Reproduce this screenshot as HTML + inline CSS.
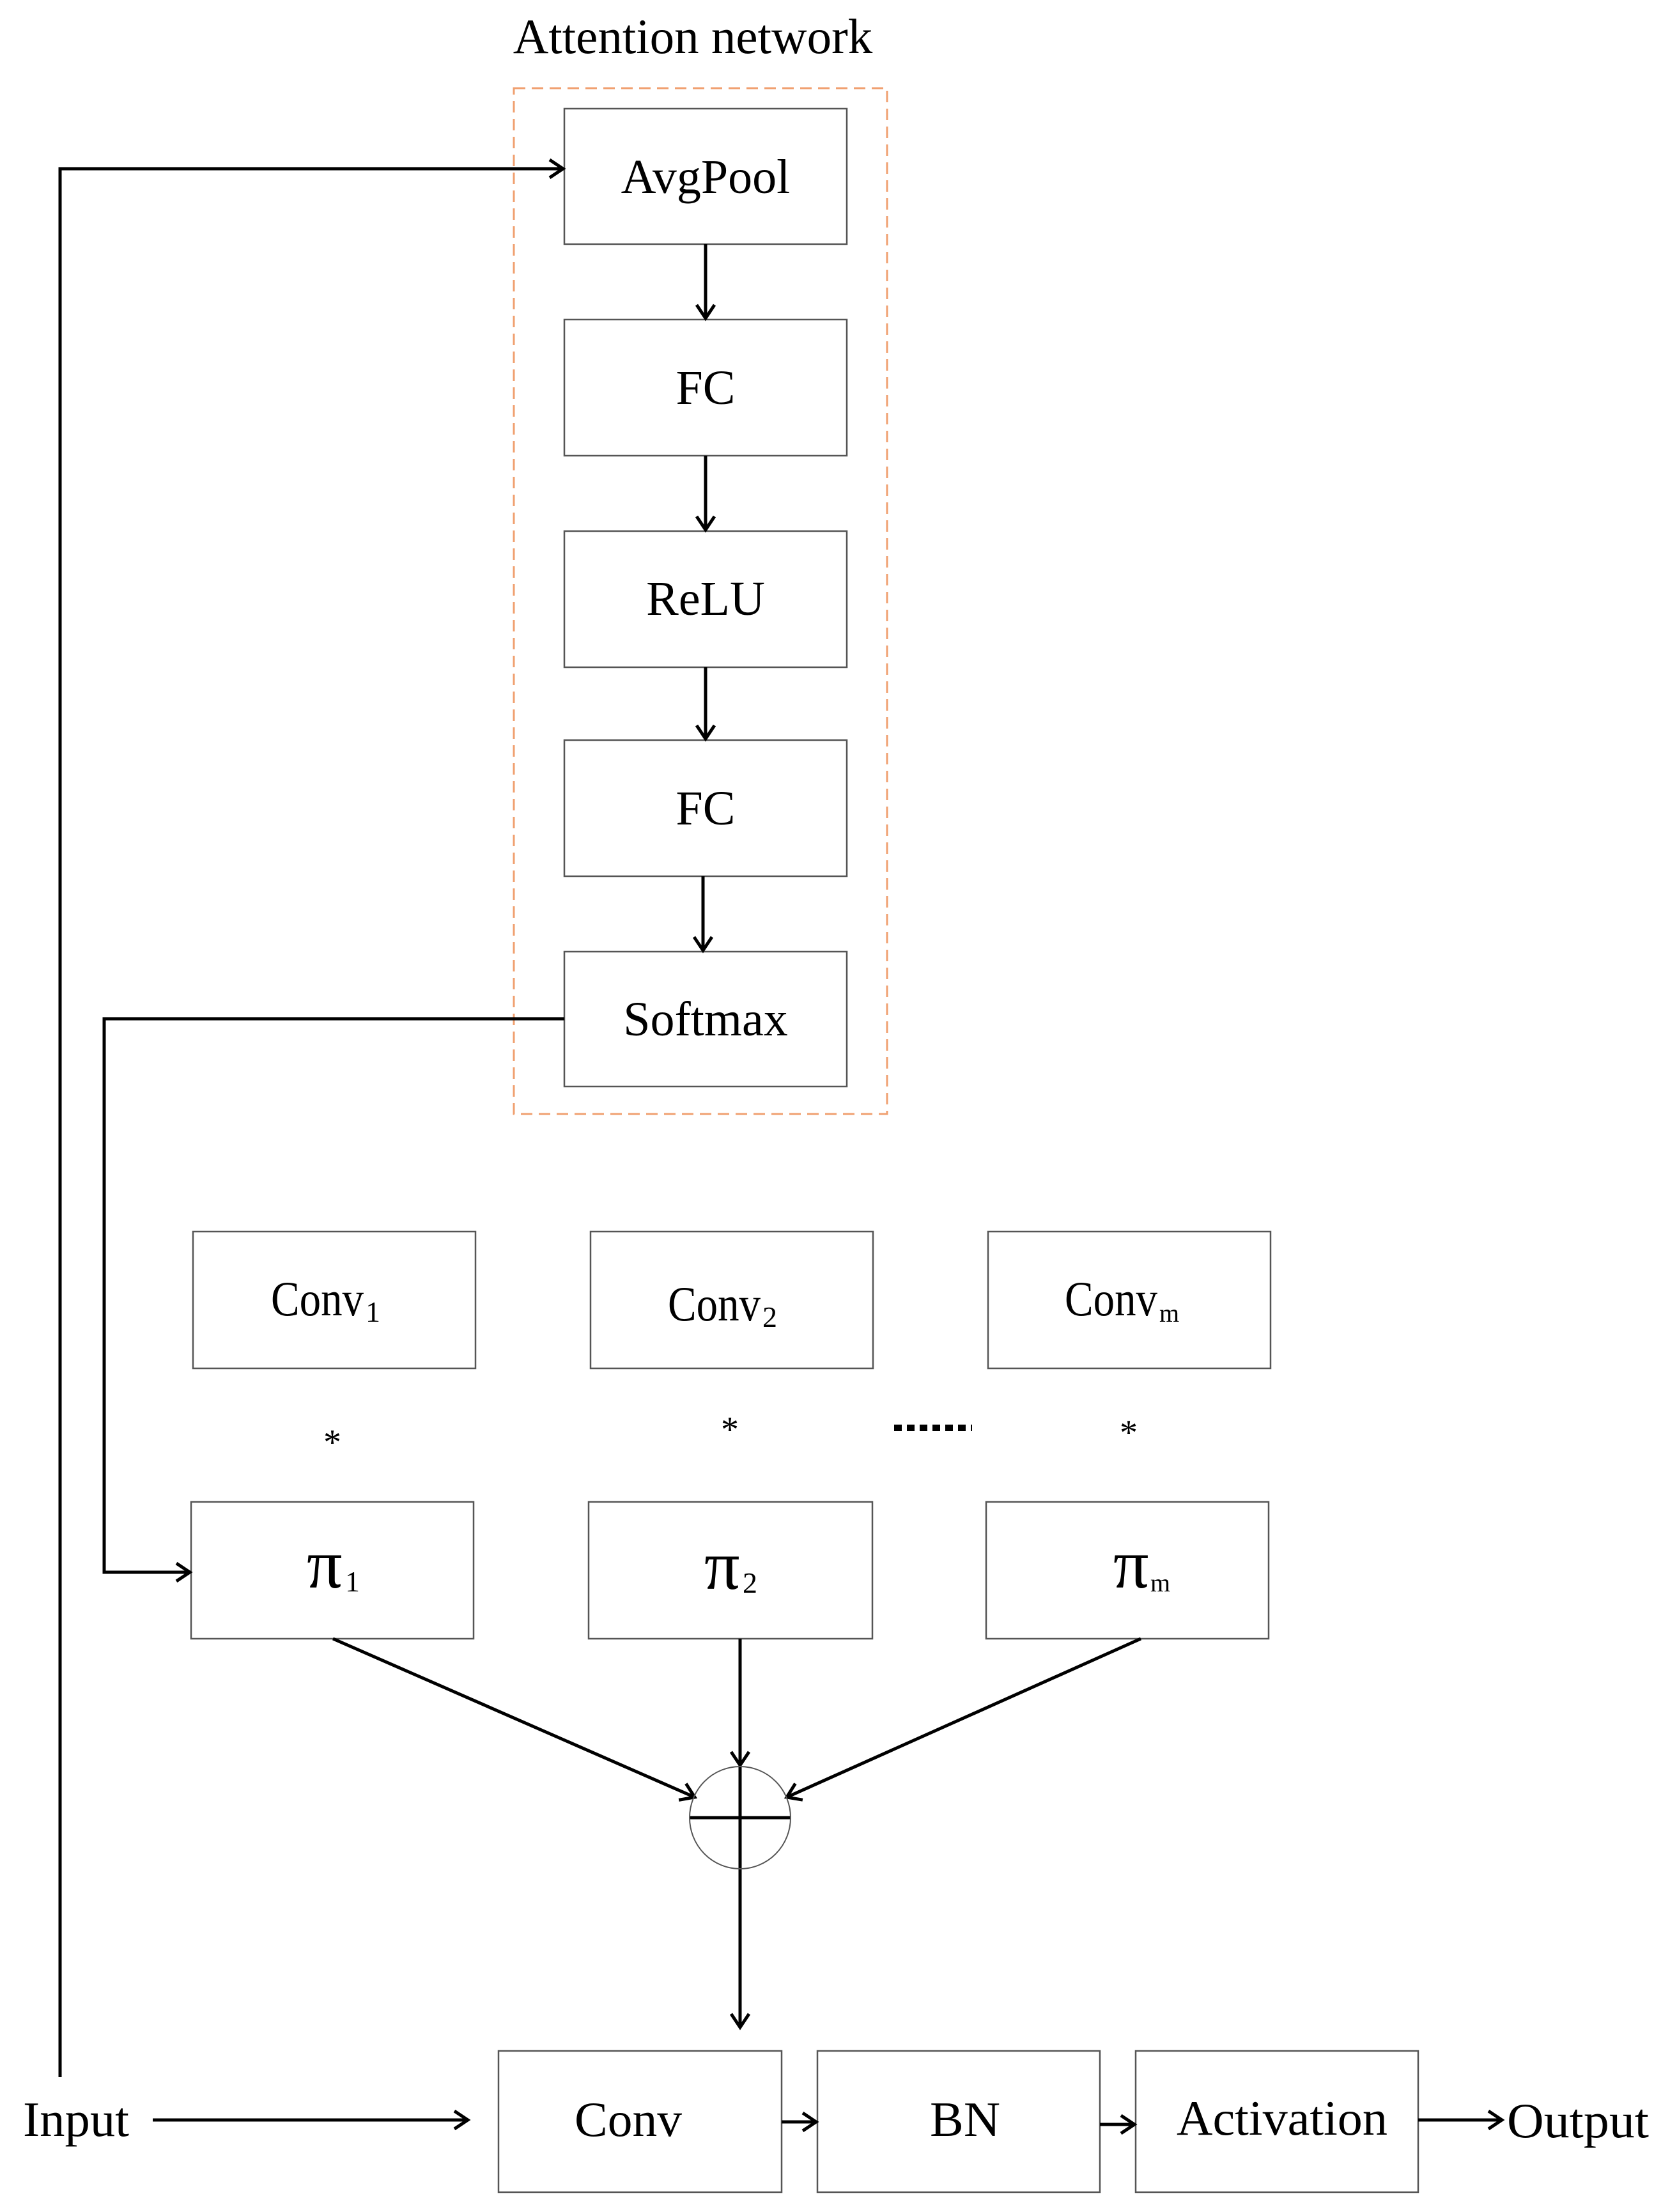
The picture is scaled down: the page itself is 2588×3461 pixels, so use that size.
<!DOCTYPE html>
<html><head><meta charset="utf-8"><style>
html,body{margin:0;padding:0;background:#fff;}
svg{display:block;}
text{font-family:"Liberation Serif","Noto Serif CJK SC",serif;fill:#000;}
</style></head><body>
<svg width="2588" height="3461" viewBox="0 0 2588 3461" xmlns="http://www.w3.org/2000/svg">
<defs>
<marker id="a" markerWidth="34" markerHeight="34" refX="26" refY="17" orient="auto" markerUnits="userSpaceOnUse">
<path d="M5,3 L26,17 L5,31" fill="none" stroke="#000" stroke-width="5"/>
</marker>
</defs>
<text x="1084" y="83" font-size="77" text-anchor="middle">Attention network</text>
<rect x="804" y="138" width="584" height="1605" fill="none" stroke="#f0a070" stroke-width="3" stroke-dasharray="18,10"/>
<g fill="#fff" stroke="#555" stroke-width="2.5">
<rect x="883" y="170" width="442" height="212"/>
<rect x="883" y="500" width="442" height="213"/>
<rect x="883" y="831" width="442" height="213"/>
<rect x="883" y="1158" width="442" height="213"/>
<rect x="883" y="1489" width="442" height="211"/>
<rect x="302" y="1927" width="442" height="214"/>
<rect x="924" y="1927" width="442" height="214"/>
<rect x="1546" y="1927" width="442" height="214"/>
<rect x="299" y="2350" width="442" height="214"/>
<rect x="921" y="2350" width="444" height="214"/>
<rect x="1543" y="2350" width="442" height="214"/>
<rect x="780" y="3209" width="443" height="221"/>
<rect x="1279" y="3209" width="442" height="221"/>
<rect x="1777" y="3209" width="442" height="221"/>
</g>
<g font-size="76" text-anchor="middle">
<text x="1104" y="302">AvgPool</text>
<text x="1104" y="632">FC</text>
<text x="1104" y="962">ReLU</text>
<text x="1104" y="1290">FC</text>
<text x="1104" y="1620">Softmax</text>
</g>
<g font-size="77">
<text x="424" y="2058" textLength="145" lengthAdjust="spacingAndGlyphs">Conv</text><text x="572" y="2068" font-size="46">1</text>
<text x="1045" y="2066" textLength="145" lengthAdjust="spacingAndGlyphs">Conv</text><text x="1193" y="2076" font-size="46">2</text>
<text x="1666" y="2058" textLength="145" lengthAdjust="spacingAndGlyphs">Conv</text><text x="1814" y="2068" font-size="40">m</text>
<text x="480" y="2484" font-size="110" font-family="Noto Sans CJK SC, sans-serif">π</text><text x="540" y="2490" font-size="46">1</text>
<text x="1102" y="2486" font-size="110" font-family="Noto Sans CJK SC, sans-serif">π</text><text x="1162" y="2492" font-size="46">2</text>
<text x="1742" y="2484" font-size="110" font-family="Noto Sans CJK SC, sans-serif">π</text><text x="1800" y="2490" font-size="40">m</text>
<text x="899" y="3342" textLength="168" lengthAdjust="spacingAndGlyphs">Conv</text>
<text x="1455" y="3342" textLength="110" lengthAdjust="spacingAndGlyphs">BN</text>
<text x="1841" y="3340" textLength="330" lengthAdjust="spacingAndGlyphs">Activation</text>
<text x="36" y="3342" textLength="166" lengthAdjust="spacingAndGlyphs">Input</text>
<text x="2358" y="3344" textLength="222" lengthAdjust="spacingAndGlyphs">Output</text>
</g>
<g font-size="56" text-anchor="middle">
<text x="520" y="2275">*</text>
<text x="1142" y="2255">*</text>
<text x="1766" y="2260">*</text>
</g>
<line x1="1399" y1="2234" x2="1521" y2="2234" stroke="#000" stroke-width="10" stroke-dasharray="12,8"/>
<g stroke="#000" stroke-width="5" fill="none">
<line x1="1104" y1="382" x2="1104" y2="498" marker-end="url(#a)"/>
<line x1="1104" y1="713" x2="1104" y2="829" marker-end="url(#a)"/>
<line x1="1104" y1="1044" x2="1104" y2="1156" marker-end="url(#a)"/>
<line x1="1100" y1="1371" x2="1100" y2="1487" marker-end="url(#a)"/>
<polyline points="94,3250 94,264 881,264" marker-end="url(#a)"/>
<polyline points="883,1594 163,1594 163,2460 297,2460" marker-end="url(#a)"/>
<line x1="521" y1="2564" x2="1087" y2="2812" marker-end="url(#a)"/>
<line x1="1785" y1="2564" x2="1231" y2="2812" marker-end="url(#a)"/>
<line x1="1158" y1="2564" x2="1158" y2="2762" marker-end="url(#a)"/>
<line x1="1158" y1="2760" x2="1158" y2="3172" marker-end="url(#a)"/>
<line x1="1079" y1="2844" x2="1238" y2="2844"/>
<line x1="239" y1="3317" x2="732" y2="3317" marker-end="url(#a)"/>
<line x1="1223" y1="3320" x2="1277" y2="3320" marker-end="url(#a)"/>
<line x1="1721" y1="3324" x2="1775" y2="3324" marker-end="url(#a)"/>
<line x1="2219" y1="3317" x2="2350" y2="3317" marker-end="url(#a)"/>
</g>
<ellipse cx="1158" cy="2844" rx="79" ry="80" fill="none" stroke="#555" stroke-width="2"/>
</svg>
</body></html>
